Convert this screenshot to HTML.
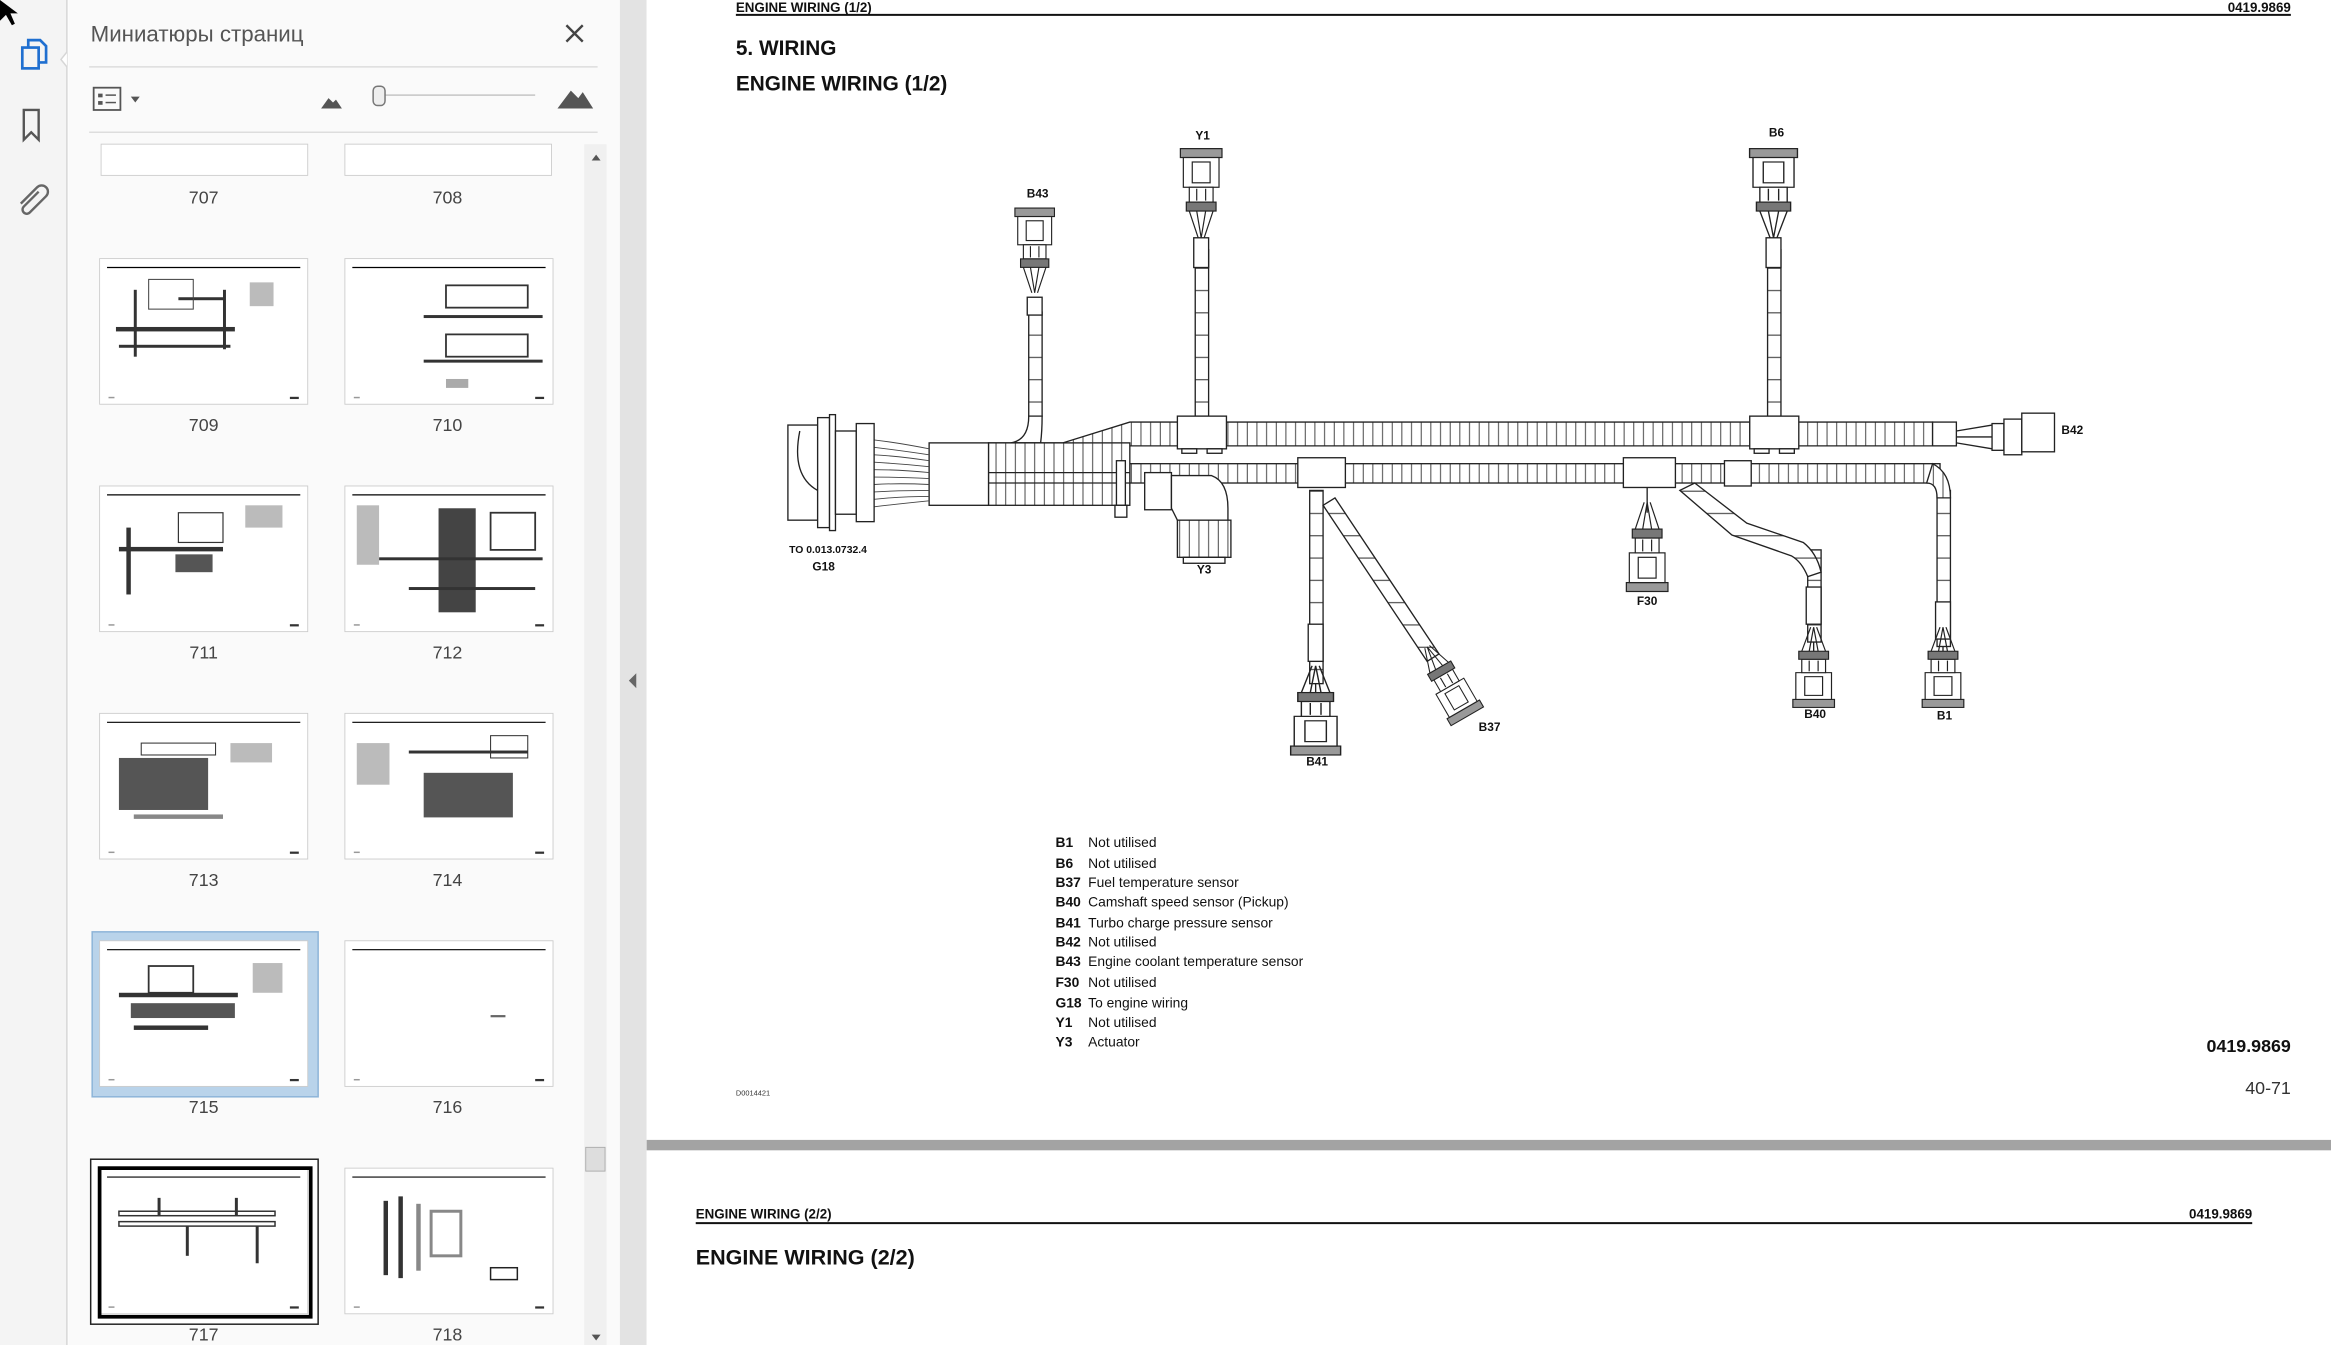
<!DOCTYPE html>
<html><head><meta charset="utf-8"><style>
html,body{margin:0;padding:0;width:2331px;height:1345px;overflow:hidden;background:#fff}
svg{display:block}
text{font-family:"Liberation Sans","Noto Sans CJK SC",sans-serif}
</style></head><body>
<svg width="2331" height="1345" viewBox="0 0 1568 905" preserveAspectRatio="none" xmlns="http://www.w3.org/2000/svg">
<defs>
<pattern id="hv" width="6.5" height="10" patternUnits="userSpaceOnUse"><rect width="6.5" height="10" fill="#fff"/><line x1="0.5" y1="0" x2="0.5" y2="10" stroke="#333" stroke-width="0.6"/></pattern>
<pattern id="hh" width="10" height="15" patternUnits="userSpaceOnUse"><rect width="10" height="15" fill="#fff"/><line x1="0" y1="0.5" x2="10" y2="0.5" stroke="#333" stroke-width="0.7"/></pattern>
<g id="cu" stroke="#222" stroke-width="0.8" fill="#fff">
<rect x="-14" y="0" width="28" height="6" fill="#999"/>
<rect x="-12" y="6" width="24" height="20"/>
<rect x="-6" y="9" width="12" height="14"/>
<rect x="-8" y="26" width="16" height="10"/>
<line x1="-3" y1="27" x2="-3" y2="35"/><line x1="3" y1="27" x2="3" y2="35"/>
<rect x="-10" y="36" width="20" height="6" fill="#777"/>
<path d="M-8 42 L-2 60 M8 42 L2 60 M-3 42 L0 60 M3 42 L0 60" fill="none"/>
</g>
<g id="thumb">
<rect x="0" y="0" width="140" height="98" fill="#fff" stroke="#ccc" stroke-width="0.6"/>
<line x1="5" y1="6" x2="135" y2="6" stroke="#000" stroke-width="0.8"/>
<rect x="6" y="93" width="4" height="1" fill="#999"/><rect x="128" y="93" width="6" height="1.5" fill="#333"/>
</g>
</defs>

<rect x="0" y="0" width="45" height="905" fill="#f4f4f4"/>
<line x1="45" y1="0" x2="45" y2="905" stroke="#d6d6d6"/>
<path d="M0 0 L0 14 L4 10 L8 17 L10 16 L7 9 L12 9 Z" fill="#000"/>
<g fill="none" stroke="#1f6fd0" stroke-width="1.8"><rect x="15" y="32" width="11" height="14"/><path d="M19 32 V27 H27 L31 31 V42 H26"/></g>
<path d="M45 35 L41 40 L45 45" fill="#fff" stroke="#d6d6d6"/>
<path d="M16 74 V94 L21 89 L26 94 V74 Z" fill="none" stroke="#555" stroke-width="1.6"/>
<path d="M14 137 L25 126 A4 4 0 0 1 31 132 L20 143 A2.5 2.5 0 0 1 16 139 L26 129" fill="none" stroke="#666" stroke-width="1.6"/>

<rect x="46" y="0" width="371" height="905" fill="#fafafa"/>
<text x="61" y="28" font-size="15" fill="#555">Миниатюры страниц</text>
<path d="M381 17 L392 28 M392 17 L381 28" stroke="#444" stroke-width="1.6"/>
<line x1="60" y1="45" x2="402" y2="45" stroke="#ddd"/>
<rect x="63" y="59" width="18" height="15" fill="none" stroke="#555" stroke-width="1.2"/>
<rect x="66" y="63" width="3" height="2.5" fill="#555"/><rect x="66" y="68" width="3" height="2.5" fill="#555"/>
<line x1="71" y1="64" x2="78" y2="64" stroke="#555"/><line x1="71" y1="69" x2="78" y2="69" stroke="#555"/>
<path d="M88 65 L94 65 L91 69 Z" fill="#555"/>
<path d="M216 73 L221 66 L224 69 L226 67 L230 73 Z" fill="#555"/>
<line x1="258" y1="64" x2="360" y2="64" stroke="#ccc" stroke-width="1.2"/>
<rect x="251" y="58" width="8" height="13" rx="3" fill="#eee" stroke="#777"/>
<path d="M375 73 L384 61 L389 66 L392 62 L399 73 Z" fill="#555"/>
<line x1="60" y1="89" x2="402" y2="89" stroke="#ddd"/>
<rect x="393" y="97" width="15" height="808" fill="#f0f0f0"/>
<path d="M398 108 L401 104 L404 108 Z" fill="#555"/>
<rect x="394" y="772" width="13" height="16" fill="#ddd" stroke="#aaa" stroke-width="0.6"/>
<path d="M398 898 L401 902 L404 898 Z" fill="#555"/>

<g font-size="12" fill="#444" text-anchor="middle">
<rect x="68" y="97" width="139" height="21" fill="#fff" stroke="#ccc" stroke-width="0.6"/>
<rect x="232" y="97" width="139" height="21" fill="#fff" stroke="#ccc" stroke-width="0.6"/>
<text x="137" y="137">707</text><text x="301" y="137">708</text>
<rect x="62" y="627" width="152" height="111" fill="#b9d3ea" stroke="#8db4d8"/>
<rect x="61" y="780" width="153" height="111" fill="#fff" stroke="#222" stroke-width="1"/>
<use href="#thumb" x="67" y="174"/><use href="#thumb" x="232" y="174"/>
<use href="#thumb" x="67" y="327"/><use href="#thumb" x="232" y="327"/>
<use href="#thumb" x="67" y="480"/><use href="#thumb" x="232" y="480"/>
<use href="#thumb" x="67" y="633"/><use href="#thumb" x="232" y="633"/>
<use href="#thumb" x="67" y="786"/><use href="#thumb" x="232" y="786"/>
<text x="137" y="290">709</text><text x="301" y="290">710</text>
<text x="137" y="443">711</text><text x="301" y="443">712</text>
<text x="137" y="596">713</text><text x="301" y="596">714</text>
<text x="137" y="749">715</text><text x="301" y="749">716</text>
<text x="137" y="902">717</text><text x="301" y="902">718</text>
</g>
<g fill="#333">
<rect x="78" y="220" width="80" height="3"/><rect x="80" y="232" width="75" height="2"/><rect x="90" y="195" width="2" height="45"/><rect x="120" y="200" width="30" height="2"/><rect x="150" y="195" width="2" height="40"/><rect x="100" y="188" width="30" height="20" fill="none" stroke="#444" stroke-width="0.7"/>
<rect x="168" y="190" width="16" height="16" fill="#bbb"/>
<rect x="285" y="212" width="80" height="2"/><rect x="285" y="242" width="80" height="2"/><rect x="300" y="192" width="55" height="15" fill="none" stroke="#333" stroke-width="1.2"/><rect x="300" y="225" width="55" height="15" fill="none" stroke="#333" stroke-width="1.2"/><rect x="300" y="255" width="15" height="6" fill="#aaa"/>
<rect x="80" y="368" width="70" height="3"/><rect x="85" y="355" width="3" height="45"/><rect x="118" y="373" width="25" height="12" fill="#555"/><rect x="120" y="345" width="30" height="20" fill="none" stroke="#333" stroke-width="0.8"/><rect x="165" y="340" width="25" height="15" fill="#bbb"/>
<rect x="295" y="342" width="25" height="70" fill="#444"/><rect x="255" y="375" width="110" height="2"/><rect x="275" y="395" width="85" height="2"/><rect x="240" y="340" width="15" height="40" fill="#bbb"/><rect x="330" y="345" width="30" height="25" fill="none" stroke="#333" stroke-width="1.2"/>
<rect x="80" y="510" width="60" height="35" fill="#555"/><rect x="95" y="500" width="50" height="8" fill="none" stroke="#333" stroke-width="0.7"/><rect x="155" y="500" width="28" height="13" fill="#bbb"/><rect x="90" y="548" width="60" height="3" fill="#888"/>
<rect x="285" y="520" width="60" height="30" fill="#555"/><rect x="275" y="505" width="80" height="2"/><rect x="330" y="495" width="25" height="15" fill="none" stroke="#333" stroke-width="0.7"/><rect x="240" y="500" width="22" height="28" fill="#bbb"/>
<rect x="80" y="668" width="80" height="3"/><rect x="88" y="675" width="70" height="10" fill="#555"/><rect x="100" y="650" width="30" height="18" fill="none" stroke="#333" stroke-width="1.2"/><rect x="90" y="690" width="50" height="3"/><rect x="170" y="648" width="20" height="20" fill="#bbb"/>
<rect x="330" y="683" width="10" height="1.5" fill="#666"/>
<rect x="67" y="786" width="142" height="100" fill="none" stroke="#000" stroke-width="2.5"/>
<rect x="80" y="815" width="105" height="3" fill="none" stroke="#333"/><rect x="80" y="822" width="105" height="3" fill="none" stroke="#333"/>
<rect x="106" y="806" width="2" height="12"/><rect x="158" y="806" width="2" height="12"/><rect x="125" y="825" width="2" height="20"/><rect x="172" y="825" width="2" height="25"/>
<rect x="258" y="808" width="3" height="50"/><rect x="268" y="805" width="3" height="55"/><rect x="280" y="810" width="3" height="45" fill="#888"/><rect x="290" y="815" width="20" height="30" fill="none" stroke="#888" stroke-width="2"/><rect x="330" y="853" width="18" height="8" fill="none" stroke="#222"/>
</g>

<rect x="417" y="0" width="18" height="905" fill="#e3e3e3"/>
<path d="M428 453 L423 458 L428 463 Z" fill="#666"/>

<rect x="435" y="0" width="1133" height="905" fill="#fff"/>
<rect x="435" y="767" width="1133" height="7" fill="#a3a3a3"/>
<text x="495" y="8" font-size="9" font-weight="bold" fill="#111">ENGINE WIRING (1/2)</text>
<text x="1541" y="8" font-size="9" font-weight="bold" fill="#111" text-anchor="end">0419.9869</text>
<line x1="495" y1="10" x2="1541" y2="10" stroke="#111" stroke-width="1.3"/>
<text x="495" y="37" font-size="14" font-weight="bold" fill="#111">5. WIRING</text>
<text x="495" y="61" font-size="14" font-weight="bold" fill="#111">ENGINE WIRING (1/2)</text>

<g stroke="#222" stroke-width="0.9" fill="#fff">
<rect x="692" y="210" width="9" height="70" fill="url(#hh)"/>
<path d="M692 280 Q692 296 680 298 L700 298 Q701 290 701 280 Z"/>
<rect x="804" y="168" width="9" height="112" fill="url(#hh)"/>
<rect x="1189" y="168" width="9" height="112" fill="url(#hh)"/>
<rect x="881" y="330" width="9" height="130" fill="url(#hh)"/>
<rect x="1303" y="330" width="9" height="105" fill="url(#hh)"/>
<rect x="1216" y="370" width="9" height="62" fill="url(#hh)"/>
<path d="M665 298 L715 298 L760 284 L1300 284 L1300 300 L760 300 L718 316 L665 316 Z" fill="url(#hv)"/>
<rect x="1300" y="284" width="16" height="16"/>
<rect x="665" y="312" width="640" height="13" fill="url(#hv)"/>
<path d="M1300 312 Q1312 318 1312 335 L1303 335 Q1303 325 1296 325 Z" fill="url(#hv)"/>
<path d="M1140 325 L1175 352 L1213 365 Q1222 372 1225 385 L1216 388 Q1212 378 1205 374 L1165 360 L1130 330 Z" fill="url(#hh)"/>
<path d="M898 335 L968 440 L960 445 L890 340 Z" fill="url(#hh)"/>
<rect x="625" y="298" width="40" height="42"/>
<rect x="665" y="298" width="95" height="42" fill="url(#hv)"/>
<line x1="665" y1="318" x2="760" y2="318"/><line x1="665" y1="325" x2="760" y2="325"/>
<g fill="none" stroke="#444" stroke-width="0.6">
<path d="M588 296 Q605 298 625 302"/><path d="M588 301 Q605 303 625 306"/><path d="M588 306 Q605 307 625 310"/><path d="M588 311 Q605 312 625 314"/><path d="M588 316 Q605 316 625 318"/><path d="M588 321 Q605 321 625 322"/><path d="M588 326 Q605 325 625 326"/><path d="M588 331 Q605 330 625 330"/><path d="M588 336 Q605 334 625 334"/><path d="M588 341 Q605 339 625 337"/>
</g>
<rect x="530" y="286" width="20" height="64"/>
<rect x="550" y="281" width="8" height="74"/>
<rect x="558" y="279" width="4" height="78"/>
<rect x="562" y="290" width="14" height="56"/>
<rect x="576" y="285" width="12" height="66"/>
<path d="M538 290 Q532 320 550 330" fill="none"/>
<rect x="792" y="280" width="33" height="22"/><rect x="795" y="302" width="10" height="3"/><rect x="812" y="302" width="10" height="3"/>
<rect x="1177" y="280" width="33" height="22"/><rect x="1180" y="302" width="10" height="3"/><rect x="1197" y="302" width="10" height="3"/>
<rect x="873" y="308" width="32" height="20"/>
<rect x="1092" y="308" width="35" height="20"/>
<rect x="1160" y="310" width="18" height="17"/>
<rect x="751" y="310" width="6" height="30"/><rect x="750" y="340" width="8" height="8"/>
<rect x="770" y="318" width="18" height="25"/>
<path d="M788 320 L815 320 Q826 324 826 342 L826 350 L792 350 L788 342 Z"/>
<rect x="792" y="350" width="36" height="25" fill="url(#hv)"/>
<rect x="796" y="375" width="28" height="4"/>
<path d="M696 210 L696 200 M808 168 L808 160 M1193 168 L1193 160 M885 460 L885 470 M1220 432 L1220 440 M1307 435 L1307 440 M1108 328 L1108 345" fill="none"/>
<rect x="691" y="200" width="10" height="12"/><rect x="803" y="160" width="10" height="20"/><rect x="1188" y="160" width="10" height="20"/>
<rect x="880" y="420" width="10" height="25"/><rect x="1215" y="395" width="10" height="25"/><rect x="1302" y="405" width="10" height="25"/>
<path d="M1316 290 L1340 286 M1316 294 L1340 294 M1316 298 L1340 302" fill="none"/>
<rect x="1340" y="285" width="8" height="18"/><rect x="1348" y="282" width="12" height="24"/><rect x="1360" y="278" width="22" height="26"/>
</g>
<use href="#cu" transform="translate(696,140) scale(0.95)"/>
<use href="#cu" transform="translate(808,100)"/>
<use href="#cu" transform="translate(1193,100) scale(1.15,1)"/>
<use href="#cu" transform="translate(885,508) scale(1.2,-1)"/>
<use href="#cu" transform="translate(1108,398) scale(1,-1)"/>
<use href="#cu" transform="translate(1220,476) scale(1,-0.9)"/>
<use href="#cu" transform="translate(1307,476) scale(1,-0.9)"/>
<use href="#cu" transform="translate(987,482) rotate(150) scale(0.9)"/>

<g font-size="8" font-weight="bold" fill="#111" text-anchor="middle">
<text x="698" y="133">B43</text><text x="809" y="94">Y1</text><text x="1195" y="92">B6</text>
<text x="1394" y="292">B42</text><text x="810" y="386">Y3</text><text x="886" y="515">B41</text>
<text x="1002" y="492">B37</text><text x="1108" y="407">F30</text><text x="1221" y="483">B40</text><text x="1308" y="484">B1</text>
<text x="557" y="372" font-size="7">TO 0.013.0732.4</text><text x="554" y="384">G18</text>
</g>

<g font-size="9.3" fill="#111">
<g font-weight="bold"><text x="710" y="570">B1</text><text x="710" y="584">B6</text><text x="710" y="597">B37</text><text x="710" y="610">B40</text><text x="710" y="624">B41</text><text x="710" y="637">B42</text><text x="710" y="650">B43</text><text x="710" y="664">F30</text><text x="710" y="678">G18</text><text x="710" y="691">Y1</text><text x="710" y="704">Y3</text></g>
<text x="732" y="570">Not utilised</text><text x="732" y="584">Not utilised</text><text x="732" y="597">Fuel temperature sensor</text><text x="732" y="610">Camshaft speed sensor (Pickup)</text><text x="732" y="624">Turbo charge pressure sensor</text><text x="732" y="637">Not utilised</text><text x="732" y="650">Engine coolant temperature sensor</text><text x="732" y="664">Not utilised</text><text x="732" y="678">To engine wiring</text><text x="732" y="691">Not utilised</text><text x="732" y="704">Actuator</text>
</g>
<text x="1541" y="708" font-size="12" font-weight="bold" fill="#111" text-anchor="end">0419.9869</text>
<text x="1541" y="736" font-size="12" fill="#333" text-anchor="end">40-71</text>
<text x="495" y="737" font-size="5" fill="#333">D0014421</text>

<text x="468" y="820" font-size="9" font-weight="bold" fill="#111">ENGINE WIRING (2/2)</text>
<text x="1515" y="820" font-size="9" font-weight="bold" fill="#111" text-anchor="end">0419.9869</text>
<line x1="468" y1="823" x2="1515" y2="823" stroke="#111" stroke-width="1.3"/>
<text x="468" y="851" font-size="14.5" font-weight="bold" fill="#111">ENGINE WIRING (2/2)</text>
</svg>
</body></html>
